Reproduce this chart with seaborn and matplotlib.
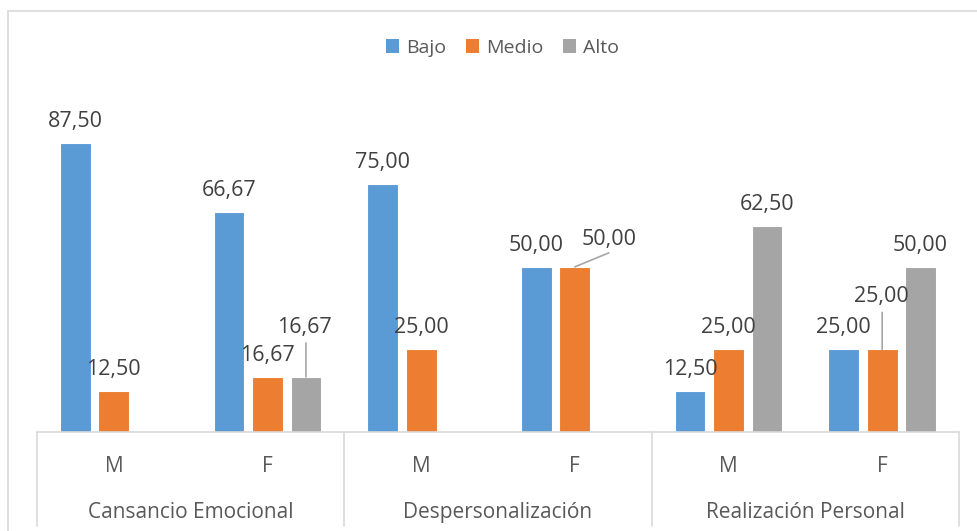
import matplotlib
matplotlib.use("Agg")
import matplotlib.pyplot as plt
import seaborn as sns
import pandas as pd
from matplotlib.lines import Line2D
from matplotlib.patches import Patch

# ---- data ----
categories = ["Cansancio Emocional", "Despersonalización", "Realización Personal"]
sexes = ["M", "F"]
series = ["Bajo", "Medio", "Alto"]
bajo = [87.50, 66.67, 75.00, 50.00, 12.50, 25.00]
medio = [12.50, 16.67, 25.00, 50.00, 25.00, 25.00]
alto = [0.0, 16.67, 0.0, 0.0, 62.50, 50.00]
values = [bajo, medio, alto]
colors = ["#5B9BD5", "#ED7D31", "#A5A5A5"]

groups = [f"{c} {s}" for c in categories for s in sexes]
rows = []
for sname, vals in zip(series, values):
    for g, v in zip(groups, vals):
        rows.append({"grupo": g, "nivel": sname, "valor": v})
df = pd.DataFrame(rows)

# ---- style ----
sns.set_theme(style="white")
plt.rcParams["font.family"] = ["Open Sans", "DejaVu Sans"]

W, H = 977, 531
fig = plt.figure(figsize=(W / 100, H / 100), dpi=100)
ax_h = 432 - 101.7
ax = fig.add_axes([37 / W, (H - 432) / H, (959 - 37) / W, ax_h / H])

sns.barplot(data=df, x="grupo", y="valor", hue="nivel", order=groups,
            hue_order=series, palette=colors, width=0.75, gap=0.2,
            errorbar=None, edgecolor="white", linewidth=0.8, saturation=1,
            legend=False, ax=ax)

ax.set_ylim(0, 100)
ax.set_xlim(-0.5, 5.5)
ax.set_xticks([])
ax.set_yticks([])
ax.set_xlabel("")
ax.set_ylabel("")
for s in ["top", "left", "right"]:
    ax.spines[s].set_visible(False)
ax.spines["bottom"].set_color("#d9d9d9")
ax.spines["bottom"].set_linewidth(1.2)

# ---- data labels ----
p = 0.72  # px -> pt at 100 dpi
special = {
    ("Alto", 1): ((-1, 44), (0, 34)),
    ("Medio", 3): ((34, 22), (34, 14)),
    ("Medio", 5): ((-1, 47), (0, 37)),
}


def fmt(v):
    return f"{v:.2f}".replace(".", ",")


for si, cont in enumerate(ax.containers):
    for gi, bar in enumerate(cont):
        v = values[si][gi]
        if v == 0:
            continue
        x = bar.get_x() + bar.get_width() / 2
        h = bar.get_height()
        (dx, dy), lead = special.get((series[si], gi), ((0, 16), None))
        ax.annotate(fmt(v), xy=(x, h), xytext=(dx * p, dy * p),
                    textcoords="offset points", ha="center", va="baseline",
                    fontsize=15.5, color="#404040", annotation_clip=False)
        if lead:
            ax.annotate("", xy=(x, h), xytext=(lead[0] * p, lead[1] * p),
                        textcoords="offset points", annotation_clip=False,
                        arrowprops=dict(arrowstyle="-", color="#a6a6a6",
                                        lw=1.2, shrinkA=0, shrinkB=0))

# ---- multi-level category axis ----
trans = ax.get_xaxis_transform()
for i, g in enumerate(groups):
    ax.text(i, -(472 - 432) / ax_h, sexes[i % 2], ha="center", va="baseline",
            fontsize=15, color="#595959", transform=trans)
for j, c in enumerate(categories):
    ax.text(2 * j + 0.5, -(518.3 - 432) / ax_h, c, ha="center", va="baseline",
            fontsize=15, color="#595959", transform=trans)
for xs in [-0.5, 1.5, 3.5, 5.5]:
    ax.plot([xs, xs], [0, -(526 - 432) / ax_h], transform=trans,
            clip_on=False, color="#d9d9d9", lw=1.2)

# ---- legend ----
handles = [Patch(facecolor=c, edgecolor="none") for c in colors]
fig.legend(handles, series, loc="center",
           bbox_to_anchor=(502.5 / W, 1 - 48 / H), ncol=3, frameon=False,
           fontsize=14, handlelength=0.67, handleheight=0.72,
           handletextpad=0.36, columnspacing=1.03, labelcolor="#595959",
           borderaxespad=0, borderpad=0)

# ---- outer chart frame ----
fig.add_artist(Line2D([8 / W, 8 / W], [0, 1 - 11.3 / H],
                      transform=fig.transFigure, color="#d9d9d9", lw=1.2))
fig.add_artist(Line2D([8 / W, 1], [1 - 11.3 / H, 1 - 11.3 / H],
                      transform=fig.transFigure, color="#d9d9d9", lw=1.2))

fig.savefig("out.png", dpi=100)
